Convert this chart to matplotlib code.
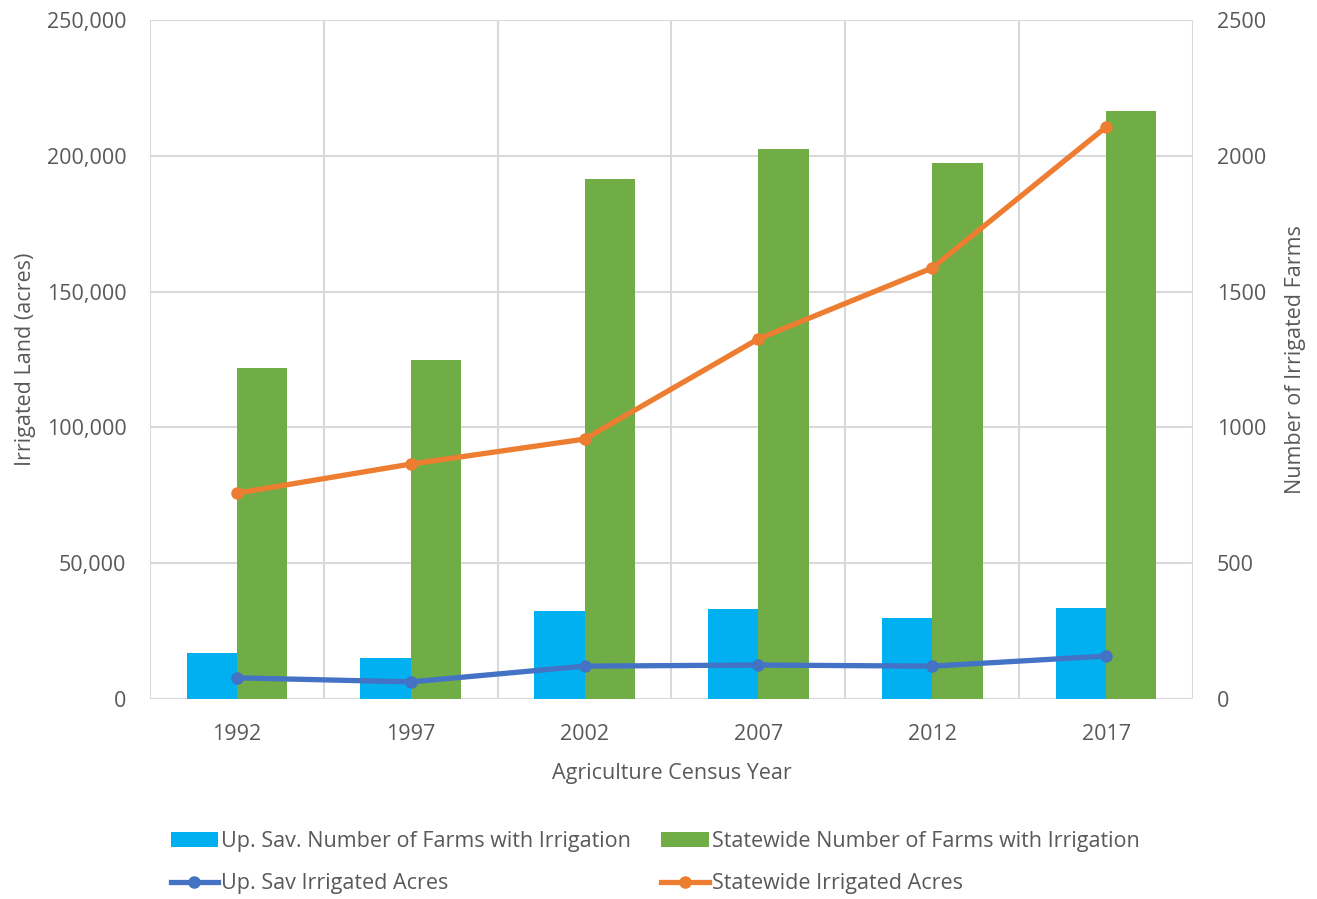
import numpy as np
import matplotlib
matplotlib.use("Agg")
import matplotlib.pyplot as plt
from matplotlib.ticker import FuncFormatter, FixedLocator

years = ["1992", "1997", "2002", "2007", "2012", "2017"]
upsav_farms = [168, 152, 324, 330, 298, 336]
state_farms = [1218, 1248, 1916, 2026, 1972, 2166]
upsav_acres = [7800, 6300, 12100, 12500, 12100, 15800]
state_acres = [75800, 86500, 95700, 132600, 158700, 210600]

text_col = "#595959"
grid_col = "#D9D9D9"
fs = 15.5
plt.rcParams["font.family"] = ["Open Sans", "DejaVu Sans"]
plt.rcParams["text.color"] = text_col

fig = plt.figure(figsize=(13.17, 8.99), dpi=100)
ax = fig.add_axes([150 / 1317, 1 - 699 / 899, (1193 - 150) / 1317, (699 - 20) / 899])
x = np.arange(len(years))
w = 0.29

# bars on the farms axis (right scale)
b1 = ax.bar(x - w / 2, upsav_farms, w, color="#00B0F0", zorder=2,
            label="Up. Sav. Number of Farms with Irrigation")
b2 = ax.bar(x + w / 2, state_farms, w, color="#70AD47", zorder=2,
            label="Statewide Number of Farms with Irrigation")
ax.set_ylim(0, 2500)
ax.set_xlim(-0.5, 5.5)
ax.set_yticks(np.arange(0, 2501, 500))
ax.set_xticks(x)
ax.set_xticklabels(years)
ax.xaxis.set_minor_locator(FixedLocator(np.arange(-0.5, 5.6, 1)))
ax.grid(axis="y", which="major", color=grid_col, lw=1.5, zorder=0)
ax.grid(axis="x", which="minor", color=grid_col, lw=1.5, zorder=0)
for s in ax.spines.values():
    s.set_visible(False)
ax.set_xlabel("Agriculture Census Year", fontsize=fs, color=text_col, labelpad=13)
ax.set_axisbelow(True)

# lines on acres axis (left scale)
ax2 = ax.twinx()
ax2.yaxis.tick_left()
ax2.yaxis.set_label_position("left")
ax.yaxis.tick_right()
ax.yaxis.set_label_position("right")
ax.tick_params(axis="both", which="both", length=0, labelsize=fs, labelcolor=text_col)
ax.tick_params(axis="x", pad=18)
ax.tick_params(axis="y", pad=17)
ax.set_ylabel("Number of Irrigated Farms", fontsize=fs, color=text_col, labelpad=14)

l1, = ax2.plot(x, upsav_acres, color="#4472C4", lw=3.8, marker="o", ms=8,
               label="Up. Sav Irrigated Acres", zorder=3)
l2, = ax2.plot(x, state_acres, color="#ED7D31", lw=3.8, marker="o", ms=8,
               label="Statewide Irrigated Acres", zorder=3)
ax2.set_ylim(0, 250000)
ax2.set_yticks(np.arange(0, 250001, 50000))
ax2.yaxis.set_major_formatter(FuncFormatter(lambda v, p: f"{int(v):,}"))
ax2.tick_params(axis="y", length=0, labelsize=fs, labelcolor=text_col, pad=17)
for s in ax2.spines.values():
    s.set_visible(False)
ax2.set_ylabel("Irrigated Land (acres)", fontsize=fs, color=text_col, labelpad=8)

fig.legend([b1, l1, b2, l2],
           [b1.get_label(), l1.get_label(), b2.get_label(), l2.get_label()],
           ncol=2, loc="upper left", bbox_to_anchor=(162 / 1317, 1 - 822 / 899),
           frameon=False, fontsize=fs, handlelength=2.2, handletextpad=0.15,
           columnspacing=1.4, labelspacing=1.0, borderaxespad=0)

fig.savefig("out.png", dpi=100)
